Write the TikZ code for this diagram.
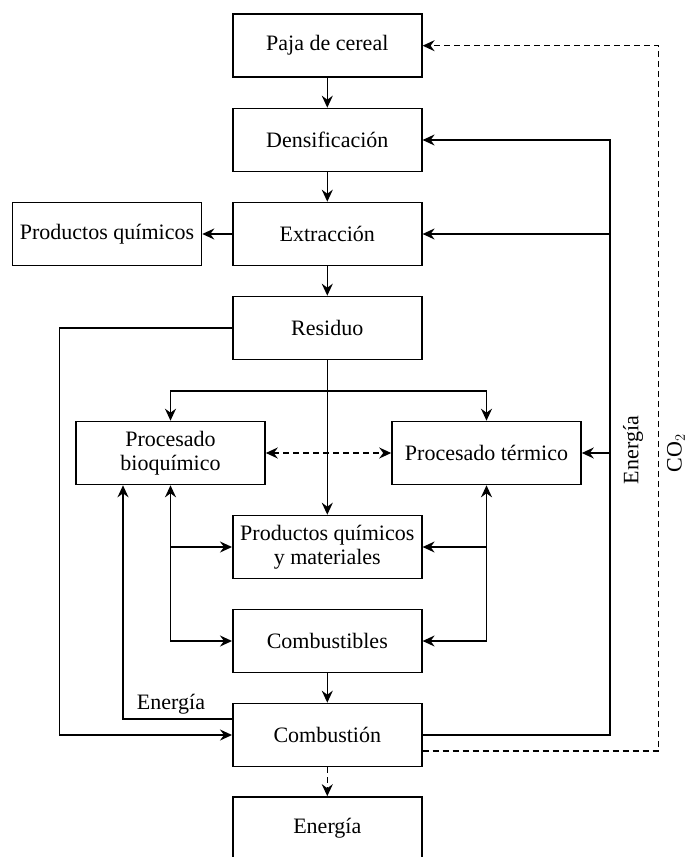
\documentclass[tikz,border=0pt]{standalone}
\usepackage{fontspec}
\setmainfont{Liberation Serif}
\usetikzlibrary{arrows.meta}
\begin{document}
\begin{tikzpicture}[x=1pt,y=-1pt,
  >={Stealth[length=12pt,width=11pt,inset=4pt]},
  box/.style={draw, line width=1.6pt, minimum width=189pt, minimum height=63pt,
    align=center, inner sep=0pt, font=\fontsize{22}{25}\selectfont},
  flow/.style={line width=1.6pt, ->},
  both/.style={line width=1.6pt, <->},
  dflow/.style={line width=1.5pt, ->, dash pattern=on 6pt off 4pt},
  dboth/.style={line width=1.5pt, <->, dash pattern=on 6pt off 4pt},
  lbl/.style={inner sep=0pt, font=\fontsize{22}{25}\selectfont}]
\useasboundingbox (0,0) rectangle (688,857);

% main chain
\node[box] (paja)  at (327.3,45.7) {Paja de cereal};
\node[box] (dens)  at (327.3,140)  {Densificación};
\node[box] (extr)  at (327.3,234)  {Extracción};
\node[box] (pq)    at (107,234)    {Productos químicos};
\node[box] (res)   at (327.3,328)  {Residuo};
\node[box] (bio)   at (170.5,453)  {Procesado\\[-1pt]bioquímico};
\node[box] (term)  at (486.5,453)  {Procesado térmico};
\node[box] (pqm)   at (327.3,547)  {Productos químicos\\[-1pt]y materiales};
\node[box] (fuel)  at (327.3,641)  {Combustibles};
\node[box] (comb)  at (327.3,735)  {Combustión};
\node[box] (ener)  at (327.3,828.5){Energía};

% auxiliary routing columns
\coordinate (split) at (327.3,391);
\coordinate (ebus) at (610,0);
\coordinate (cbus) at (658.6,0);
\coordinate (lbus) at (59.5,0);
\coordinate (ebio) at (123,0);

% labels
\node[lbl, rotate=90] (elbl) at (633,450) {Energía};
\node[lbl, rotate=90] (clbl) at (676,453) {CO$_2$};
\node[lbl] (elbl2) at (171,704) {Energía};

% vertical flow
\draw[flow] (paja.south) -- (dens.north);
\draw[flow] (dens.south) -- (extr.north);
\draw[flow] (extr.south) -- (res.north);
\draw[flow] (extr.west) -- (pq.east);
\draw[flow] (res.south) -- (pqm.north);
\draw[flow] (split) -| (bio.north);
\draw[flow] (split) -| (term.north);
\draw[dboth] (bio.east) -- (term.west);
\draw[flow] (fuel.south) -- (comb.north);
\draw[dflow] (comb.south) -- (ener.north);

% products of the two processes
\draw[both] (bio.south) |- (fuel.west);
\draw[flow] (bio.south |- pqm.west) -- (pqm.west);
\draw[both] (term.south) |- (fuel.east);
\draw[flow] (term.south |- pqm.east) -- (pqm.east);

% residue sent straight to combustion
\draw[flow] (res.west) -- (res.west -| lbus) |- (comb.west);

% energy fed back
\draw[flow] ([yshift=16pt]comb.west) -| (ebio |- bio.south);
\draw[flow] (comb.east) -| (ebus |- dens.east) -- (dens.east);
\draw[flow] (ebus |- extr.east) -- (extr.east);
\draw[flow] (ebus |- term.east) -- (term.east);

% CO2 returned to the crop
\draw[dflow] ([yshift=-16pt]comb.east) -| (cbus |- paja.east) -- (paja.east);
\end{tikzpicture}
\end{document}
